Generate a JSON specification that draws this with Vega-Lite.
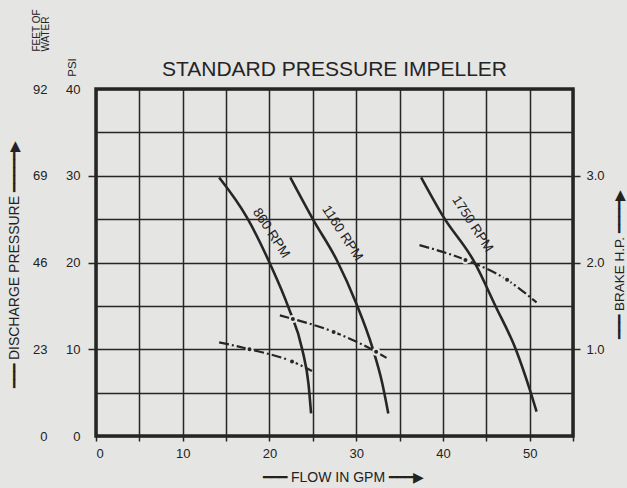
{
  "$schema": "https://vega.github.io/schema/vega-lite/v6.json",
  "width": 477,
  "height": 347,
  "autosize": {"type": "none"},
  "padding": {"left": 96, "top": 89, "right": 54, "bottom": 52},
  "background": "#e5e5e3",
  "title": {
    "text": "STANDARD PRESSURE IMPELLER",
    "font": "Liberation Sans",
    "fontSize": 21,
    "fontWeight": "normal",
    "color": "#242424",
    "anchor": "middle",
    "frame": "group",
    "offset": 9,
    "dy": 80
  },
  "config": {
    "view": {"stroke": "#262626", "strokeWidth": 3.5, "fill": "#e5e5e3"},
    "font": "Liberation Sans",
    "axis": {
      "labelFont": "Liberation Sans",
      "labelFontSize": 13,
      "labelColor": "#222222",
      "tickColor": "#262626",
      "tickWidth": 1.5,
      "gridColor": "#262626",
      "gridWidth": 1.5,
      "gridOpacity": 1,
      "titleFont": "Liberation Sans",
      "titleFontSize": 13,
      "titleFontWeight": "normal",
      "titleColor": "#222222"
    }
  },
  "datasets": {
    "head": [
      {"rpm": "860", "flow": 14.2, "psi": 29.8},
      {"rpm": "860", "flow": 17.4, "psi": 25.2},
      {"rpm": "860", "flow": 20.0, "psi": 20.0},
      {"rpm": "860", "flow": 22.2, "psi": 14.8},
      {"rpm": "860", "flow": 23.8, "psi": 9.9},
      {"rpm": "860", "flow": 24.5, "psi": 6.0},
      {"rpm": "860", "flow": 24.8, "psi": 2.6},
      {"rpm": "1160", "flow": 22.4, "psi": 29.8},
      {"rpm": "1160", "flow": 25.0, "psi": 25.0},
      {"rpm": "1160", "flow": 27.8, "psi": 20.2},
      {"rpm": "1160", "flow": 30.0, "psi": 15.3},
      {"rpm": "1160", "flow": 31.9, "psi": 10.1},
      {"rpm": "1160", "flow": 33.0, "psi": 6.1},
      {"rpm": "1160", "flow": 33.7, "psi": 2.6},
      {"rpm": "1750", "flow": 37.5, "psi": 29.8},
      {"rpm": "1750", "flow": 40.1, "psi": 25.2},
      {"rpm": "1750", "flow": 43.6, "psi": 20.1},
      {"rpm": "1750", "flow": 46.1, "psi": 14.9},
      {"rpm": "1750", "flow": 48.4, "psi": 10.0},
      {"rpm": "1750", "flow": 50.0, "psi": 5.4},
      {"rpm": "1750", "flow": 50.8, "psi": 2.8}
    ],
    "hp": [
      {"rpm": "860", "flow": 14.2, "hp": 1.08, "dot": false},
      {"rpm": "860", "flow": 17.7, "hp": 1.0, "dot": true},
      {"rpm": "860", "flow": 22.6, "hp": 0.86, "dot": true},
      {"rpm": "860", "flow": 24.9, "hp": 0.75, "dot": false},
      {"rpm": "1160", "flow": 21.2, "hp": 1.39, "dot": false},
      {"rpm": "1160", "flow": 22.7, "hp": 1.35, "dot": true},
      {"rpm": "1160", "flow": 27.4, "hp": 1.2, "dot": true},
      {"rpm": "1160", "flow": 32.3, "hp": 0.97, "dot": true},
      {"rpm": "1160", "flow": 33.5, "hp": 0.9, "dot": false},
      {"rpm": "1750", "flow": 37.3, "hp": 2.2, "dot": false},
      {"rpm": "1750", "flow": 42.6, "hp": 2.03, "dot": true},
      {"rpm": "1750", "flow": 47.4, "hp": 1.8, "dot": true},
      {"rpm": "1750", "flow": 50.8, "hp": 1.54, "dot": false}
    ],
    "labels": [
      {"label": "860 RPM", "flow": 20.2, "feet": 53.8},
      {"label": "1160 RPM", "flow": 28.4, "feet": 53.8},
      {"label": "1750 RPM", "flow": 43.4, "feet": 56.2}
    ]
  },
  "layer": [
    {
      "data": {"name": "head"},
      "mark": {"type": "line", "interpolate": "monotone", "stroke": "#262626", "strokeWidth": 2.6},
      "encoding": {
        "x": {
          "field": "flow", "type": "quantitative",
          "scale": {"domain": [0, 55], "nice": false, "zero": false},
          "axis": {
            "values": [0, 5, 10, 15, 20, 25, 30, 35, 40, 45, 50, 55],
            "grid": true,
            "domain": false,
            "tickSize": 5,
            "labelPadding": 6,
            "labelExpr": "datum.value % 10 === 0 && datum.value < 55 ? datum.label : ''",
            "title": "━━━ FLOW IN GPM ━━━▶",
            "titleFontSize": 14,
            "titleX": 247,
            "titleY": 41,
            "titleAlign": "center",
            "titleBaseline": "middle"
          }
        },
        "y": {
          "field": "psi", "type": "quantitative",
          "scale": {"domain": [0, 40], "nice": false},
          "axis": {
            "orient": "left",
            "values": [0, 5, 10, 15, 20, 25, 30, 35, 40],
            "grid": true,
            "domain": false,
            "tickSize": 8,
            "tickOpacity": {"condition": {"test": "datum.value % 10 === 0 && datum.value > 0 && datum.value < 40", "value": 1}, "value": 0},
            "labelPadding": 8,
            "labelExpr": "datum.value % 10 === 0 ? datum.label : ''",
            "title": "PSI",
            "titleFontSize": 11.5,
            "titleAngle": -90,
            "titleX": -24,
            "titleY": -22,
            "titleAlign": "center",
            "titleBaseline": "middle"
          }
        },
        "detail": {"field": "rpm", "type": "nominal"}
      }
    },
    {
      "data": {"name": "hp"},
      "mark": {"type": "line", "interpolate": "monotone", "stroke": "#262626", "strokeWidth": 2.2, "strokeDash": [10, 3, 2, 3]},
      "encoding": {
        "x": {"field": "flow", "type": "quantitative"},
        "y": {
          "field": "hp", "type": "quantitative",
          "scale": {"domain": [0, 4], "nice": false},
          "axis": {
            "orient": "right",
            "values": [1, 2, 3],
            "format": ".1f",
            "grid": false,
            "domain": false,
            "tickSize": 7,
            "labelPadding": 6,
            "title": "━━━ BRAKE H.P. ━━━━▶",
            "titleFontSize": 13.5,
            "titleAngle": -90,
            "titleX": 46,
            "titleY": 175,
            "titleAlign": "center",
            "titleBaseline": "middle"
          }
        },
        "detail": {"field": "rpm", "type": "nominal"}
      }
    },
    {
      "data": {"name": "labels"},
      "mark": {"type": "text", "fontSize": 13.5, "align": "center", "baseline": "middle", "angle": 57, "color": "#222222"},
      "encoding": {
        "x": {"field": "flow", "type": "quantitative"},
        "y": {
          "field": "feet", "type": "quantitative",
          "scale": {"domain": [0, 92], "nice": false},
          "axis": {
            "orient": "left",
            "offset": 48,
            "values": [0, 23, 46, 69, 92],
            "grid": false,
            "domain": false,
            "ticks": false,
            "labelPadding": 1,
            "title": ["FEET OF", "WATER"],
            "titleFontSize": 10,
            "titleLineHeight": 9.5,
            "titleAngle": -90,
            "titleX": -12,
            "titleY": -38,
            "titleAlign": "left",
            "titleBaseline": "middle"
          }
        },
        "text": {"field": "label", "type": "nominal"}
      }
    },
    {
      "data": {"name": "hp"},
      "transform": [{"filter": "datum.dot"}],
      "mark": {"type": "point", "filled": true, "size": 36, "fill": "#262626", "stroke": "#e5e5e3", "strokeWidth": 2, "opacity": 1},
      "encoding": {
        "x": {"field": "flow", "type": "quantitative"},
        "y": {
          "field": "hp", "type": "quantitative",
          "scale": {"domain": [0, 4], "nice": false},
          "axis": {
            "orient": "left",
            "offset": 80,
            "labels": false,
            "ticks": false,
            "domain": false,
            "grid": false,
            "title": "━━━ DISCHARGE PRESSURE ━━━━━▶",
            "titleFontSize": 14,
            "titleAngle": -90,
            "titleX": -2,
            "titleY": 175,
            "titleAlign": "center",
            "titleBaseline": "middle"
          }
        }
      }
    }
  ],
  "resolve": {"scale": {"y": "independent"}, "axis": {"y": "independent"}}
}
